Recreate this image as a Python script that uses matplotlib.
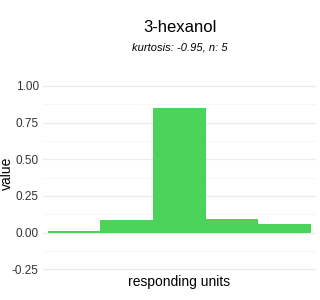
import matplotlib.pyplot as plt

# data
units = [1, 2, 3, 4, 5]
values = [0.011, 0.086, 0.852, 0.093, 0.059]
yticks = [-0.25, 0.0, 0.25, 0.5, 0.75, 1.0]
ytick_labels = ["-0.25", "0.00", "0.25", "0.50", "0.75", "1.00"]
minor_ticks = [-0.125, 0.125, 0.375, 0.625, 0.875]

plt.rcParams['font.family'] = ['Liberation Sans', 'DejaVu Sans']

fig = plt.figure(figsize=(3.2, 3.0), dpi=100)
ax = fig.add_axes([0.134, 0.078, 0.853, 0.66])

ax.bar(units, values, width=1.0, color='#4CD35A', zorder=2)

ax.set_xlim(0.405, 5.595)
ax.set_ylim(-0.3, 1.05)
ax.set_yticks(yticks)
ax.set_yticklabels(ytick_labels)
ax.set_yticks(minor_ticks, minor=True)
ax.set_xticks([])

ax.grid(axis='y', which='major', color='#EBEBEB', linewidth=0.9, zorder=0)
ax.grid(axis='y', which='minor', color='#F5F5F5', linewidth=0.6, zorder=0)
ax.tick_params(axis='y', which='both', length=0, pad=3, labelsize=8.5, labelcolor='#333333')
for s in ax.spines.values():
    s.set_visible(False)

# axis titles placed in figure coords to match the reference layout
fig.text(0.561, 0.06, "responding units", ha='center', va='center', fontsize=10)
fig.text(0.022, 0.423, "value", ha='center', va='center', fontsize=10, rotation=90)

fig.text(0.561, 0.91, "3-hexanol", ha='center', va='center', fontsize=12)
fig.text(0.561, 0.84, "kurtosis: -0.95, n: 5", ha='center', va='center',
         fontsize=8, style='italic')

fig.savefig("out.png", dpi=100)
